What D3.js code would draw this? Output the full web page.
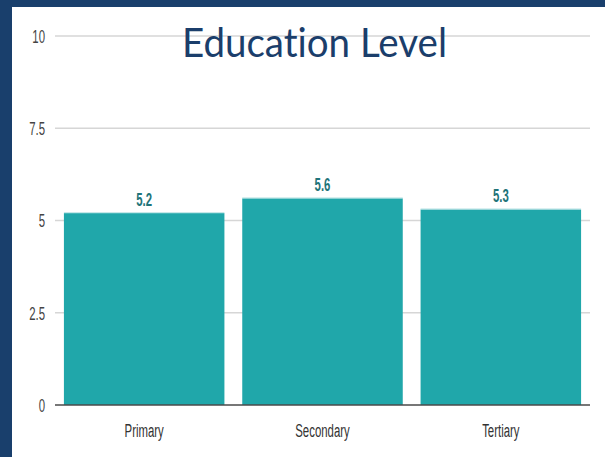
<!DOCTYPE html>
<html>
<head>
<meta charset="utf-8">
<script src="https://cdn.jsdelivr.net/npm/d3@7"></script>
<style>
  html, body { margin: 0; padding: 0; background: #fff; }
  svg { display: block; }
  .narrow { font-family: "Liberation Sans", Arial, sans-serif; }
</style>
</head>
<body>
<div id="chart"></div>
<script>
// Chart data
const categories = ['Primary', 'Secondary', 'Tertiary'];
const values = [5.2, 5.6, 5.3];
const yTicks = [0, 2.5, 5, 7.5, 10];
const yTickLabels = ['0', '2.5', '5', '7.5', '10'];
const title = 'Education Level';

function drawChart(containerId = 'chart') {
    const width = 605;
    const height = 457;
    const margin = { top: 36, right: 15, bottom: 52, left: 55 };
    // the source image was squeezed horizontally, so text is narrow
    const squeeze = 0.6;

    const svg = d3.select(`#${containerId}`)
        .append('svg')
        .attr('width', width)
        .attr('height', height);

    // Slide frame (dark blue on left and top)
    svg.append('rect')
        .attr('x', 0).attr('y', 0)
        .attr('width', width).attr('height', 7)
        .attr('fill', '#193f6c');
    svg.append('rect')
        .attr('x', 0).attr('y', 0)
        .attr('width', 12).attr('height', height)
        .attr('fill', '#193f6c');

    const x = d3.scaleBand()
        .domain(categories)
        .range([margin.left, width - margin.right])
        .paddingInner(0.1)
        .paddingOuter(0.05);

    const y = d3.scaleLinear()
        .domain([0, 10])
        .range([height - margin.bottom, margin.top]);

    // Gridlines
    svg.append('g')
        .selectAll('line')
        .data(yTicks.filter(d => d !== 0))
        .enter()
        .append('line')
        .attr('x1', margin.left)
        .attr('x2', width - margin.right)
        .attr('y1', d => y(d))
        .attr('y2', d => y(d))
        .attr('stroke', '#d6d6d6')
        .attr('stroke-width', 1.5);

    // Y tick labels
    svg.append('g')
        .selectAll('text')
        .data(yTicks)
        .enter()
        .append('text')
        .attr('class', 'narrow')
        .attr('transform', d => `translate(45, ${y(d)}) scale(${squeeze}, 1)`)
        .attr('dy', '0.36em')
        .attr('text-anchor', 'end')
        .style('font-size', '19px')
        .style('fill', '#444')
        .text((d, i) => yTickLabels[i]);

    // Bars
    svg.append('g')
        .selectAll('rect')
        .data(values)
        .enter()
        .append('rect')
        .attr('x', (d, i) => x(categories[i]))
        .attr('y', d => y(d))
        .attr('width', x.bandwidth())
        .attr('height', d => y(0) - y(d))
        .attr('fill', '#20a7aa');

    // Light top edge on bars
    svg.append('g')
        .selectAll('line')
        .data(values)
        .enter()
        .append('line')
        .attr('x1', (d, i) => x(categories[i]))
        .attr('x2', (d, i) => x(categories[i]) + x.bandwidth())
        .attr('y1', d => y(d) - 0.5)
        .attr('y2', d => y(d) - 0.5)
        .attr('stroke', '#bfe6e7')
        .attr('stroke-width', 1);

    // Value labels
    svg.append('g')
        .selectAll('text')
        .data(values)
        .enter()
        .append('text')
        .attr('class', 'narrow')
        .attr('transform', (d, i) =>
            `translate(${x(categories[i]) + x.bandwidth() / 2}, ${y(d) - 7}) scale(${squeeze}, 1)`)
        .attr('text-anchor', 'middle')
        .style('font-size', '19px')
        .style('font-weight', 'bold')
        .style('fill', '#1f7479')
        .text(d => d.toFixed(1));

    // Baseline
    svg.append('line')
        .attr('x1', margin.left)
        .attr('x2', width - margin.right)
        .attr('y1', y(0))
        .attr('y2', y(0))
        .attr('stroke', '#4a4a4a')
        .attr('stroke-width', 1.5);

    // X labels
    svg.append('g')
        .selectAll('text')
        .data(categories)
        .enter()
        .append('text')
        .attr('class', 'narrow')
        .attr('transform', d => `translate(${x(d) + x.bandwidth() / 2}, 437) scale(${squeeze}, 1)`)
        .attr('text-anchor', 'middle')
        .style('font-size', '19px')
        .style('fill', '#333')
        .text(d => d);

    // Title
    svg.append('text')
        .attr('x', 182)
        .attr('y', 57)
        .attr('textLength', 265)
        .attr('lengthAdjust', 'spacingAndGlyphs')
        .style('font-family', 'Lato, "Open Sans", sans-serif')
        .style('font-variant-ligatures', 'none')
        .style('font-size', '40px')
        .style('fill', '#1b3e6b')
        .text(title);
}

drawChart();
</script>
</body>
</html>
